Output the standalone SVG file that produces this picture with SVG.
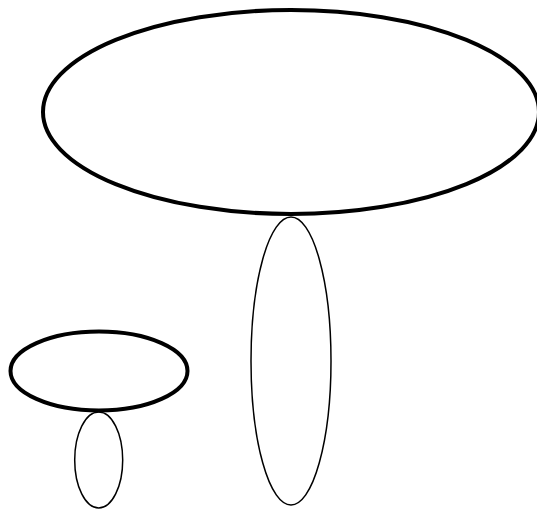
<svg xmlns="http://www.w3.org/2000/svg" width="537" height="512" viewBox="0 0 537 512">
<style>
.thick{fill:none;stroke:#000;stroke-width:4}
.thin{fill:none;stroke:#000;stroke-width:1.5}
</style>
<rect width="537" height="512" fill="#fff"/>
<g id="n1"><ellipse class="thick" cx="291" cy="112" rx="248" ry="102"/></g>
<g id="n2"><ellipse class="thin" cx="291" cy="361" rx="40" ry="144"/></g>
<g id="n3"><ellipse class="thick" cx="99" cy="371" rx="88.5" ry="39.5"/></g>
<g id="n4"><ellipse class="thin" cx="98.7" cy="460" rx="24" ry="48"/></g>
<g id="connectors"></g>
</svg>
